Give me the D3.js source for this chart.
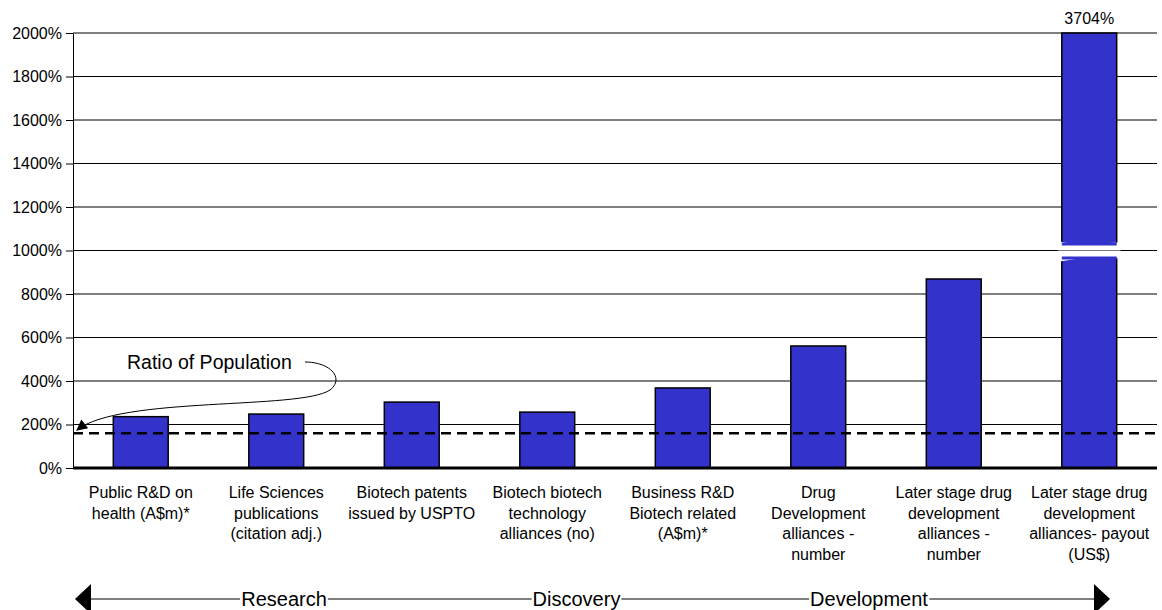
<!DOCTYPE html>
<html>
<head>
<meta charset="utf-8">
<script src="https://cdn.jsdelivr.net/npm/d3@7"></script>
<style>
  body { margin: 0; background: #fff; }
  text { font-family: "Liberation Sans", Arial, sans-serif; fill: #000; }
</style>
</head>
<body>
<div id="chart"></div>
<script>
// categories (multi-line labels)
var categories = [
  ["Public R&D on", "health (A$m)*"],
  ["Life Sciences", "publications", "(citation adj.)"],
  ["Biotech patents", "issued by USPTO"],
  ["Biotech biotech", "technology", "alliances (no)"],
  ["Business R&D", "Biotech related", "(A$m)*"],
  ["Drug", "Development", "alliances -", "number"],
  ["Later stage drug", "development", "alliances -", "number"],
  ["Later stage drug", "development", "alliances- payout", "(US$)"]
];
// values in percent
var values = [236, 248, 303, 257, 368, 561, 869, 3704];
var populationRatio = 160;
var yTicks = [0, 200, 400, 600, 800, 1000, 1200, 1400, 1600, 1800, 2000];
var stages = ["Research", "Discovery", "Development"];

var W = 1162, H = 610;
var margin = {top: 33, right: 5, bottom: 142, left: 73},
    width = W - margin.left - margin.right,
    height = H - margin.top - margin.bottom;

var svg = d3.select("#chart").append("svg")
    .attr("width", W).attr("height", H);
var g = svg.append("g")
    .attr("transform", "translate(" + margin.left + "," + margin.top + ")");

var x = d3.scaleBand().domain(d3.range(categories.length))
    .range([0, width]).paddingInner(0.595).paddingOuter(0.2975);
var y = d3.scaleLinear().domain([0, 2000]).range([height, 0]);

// gridlines
g.selectAll(".grid").data(yTicks.slice(1)).enter().append("line")
    .attr("x1", 0).attr("x2", width)
    .attr("y1", d => y(d)).attr("y2", d => y(d))
    .attr("stroke", "#000").attr("stroke-width", 1);

// y axis
var yAxis = g.append("g")
    .call(d3.axisLeft(y).tickValues(yTicks).tickFormat(d => d + "%").tickSize(7).tickSizeOuter(0));
yAxis.select(".domain").attr("stroke", "#000");
yAxis.selectAll("text").style("font-size", "16px").attr("x", -11);

// bars
var cap = 2000;
g.selectAll(".bar").data(values).enter().append("rect")
    .attr("x", (d, i) => x(i))
    .attr("width", x.bandwidth())
    .attr("y", d => y(Math.min(d, cap)))
    .attr("height", d => height - y(Math.min(d, cap)))
    .attr("fill", "#3333CC").attr("stroke", "#000").attr("stroke-width", 1.5);

// axis break on the big bar
var bi = values.length - 1, bx0 = x(bi) - 2, bx1 = x(bi) + x.bandwidth() + 2;
var yb = y(1000);
g.append("path")
    .attr("d", "M" + bx0 + "," + (yb - 9) +
      " C" + (bx0 + 20) + "," + (yb - 4) + " " + (bx1 - 25) + "," + (yb - 7) + " " + bx1 + "," + (yb - 8) +
      " L" + bx1 + "," + (yb + 8) +
      " C" + (bx1 - 20) + "," + (yb + 5) + " " + (bx0 + 25) + "," + (yb + 7) + " " + bx0 + "," + (yb + 11) + " Z")
    .attr("fill", "#fff");
g.append("line").attr("x1", bx0 - 2).attr("x2", bx1 + 2)
    .attr("y1", yb).attr("y2", yb).attr("stroke", "#777").attr("stroke-width", 1);
g.append("rect").attr("x", x(bi)).attr("width", x.bandwidth())
    .attr("y", yb - 8).attr("height", 3).attr("fill", "#3333CC");
g.append("rect").attr("x", x(bi)).attr("width", x.bandwidth())
    .attr("y", yb + 6).attr("height", 3).attr("fill", "#3333CC");

// value label for the off-scale bar
g.append("text")
    .attr("x", x(bi) + x.bandwidth() / 2).attr("y", -9)
    .attr("text-anchor", "middle").style("font-size", "16px")
    .text(values[bi] + "%");

// baseline
g.append("line").attr("x1", 0).attr("x2", width)
    .attr("y1", y(0)).attr("y2", y(0))
    .attr("stroke", "#000").attr("stroke-width", 3);

// population ratio dashed line
g.append("line").attr("x1", 0).attr("x2", width)
    .attr("y1", y(populationRatio)).attr("y2", y(populationRatio))
    .attr("stroke", "#000").attr("stroke-width", 2.5).attr("stroke-dasharray", "10,6");

// annotation
svg.append("defs").append("marker")
    .attr("id", "ah").attr("viewBox", "0 0 10 10").attr("refX", 9).attr("refY", 5)
    .attr("markerWidth", 14).attr("markerHeight", 11).attr("orient", "auto")
    .attr("markerUnits", "userSpaceOnUse")
  .append("path").attr("d", "M0,0 L10,5 L0,10 Z").attr("fill", "#000");
g.append("text")
    .attr("x", 127 - margin.left).attr("y", 369 - margin.top)
    .style("font-size", "19.5px").text("Ratio of Population");
g.append("path")
    .attr("d", "M" + (305 - margin.left) + "," + (362 - margin.top) +
      " C" + (330 - margin.left) + "," + (362 - margin.top) + " " + (345 - margin.left) + "," + (378 - margin.top) + " " + (330 - margin.left) + "," + (390 - margin.top) +
      " C" + (300 - margin.left) + "," + (410 - margin.top) + " " + (120 - margin.left) + "," + (396 - margin.top) + " " + (77 - margin.left) + "," + (430 - margin.top))
    .attr("fill", "none").attr("stroke", "#000").attr("stroke-width", 1)
    .attr("marker-end", "url(#ah)");

// category labels
var lab = g.selectAll(".cat").data(categories).enter().append("text")
    .attr("text-anchor", "middle").style("font-size", "16px")
    .attr("transform", (d, i) => "translate(" + (x(i) + x.bandwidth() / 2) + "," + (height + 30) + ")");
lab.selectAll("tspan").data(d => d).enter().append("tspan")
    .attr("x", 0).attr("dy", (d, i) => i === 0 ? 0 : 20.7).text(d => d);

// stage arrow
var ay = 599, ax0 = 75, ax1 = 1110, aw = 16, ah = 15;
var stageX = d3.scalePoint().domain(stages).range([284, 869]);
svg.append("line").attr("x1", ax0 + 12).attr("x2", ax1 - 12)
    .attr("y1", ay).attr("y2", ay).attr("stroke", "#000").attr("stroke-width", 1.2);
svg.append("path").attr("d", "M" + ax0 + "," + ay + " L" + (ax0 + aw) + "," + (ay - ah) + " L" + (ax0 + aw) + "," + (ay + ah) + " Z");
svg.append("path").attr("d", "M" + ax1 + "," + ay + " L" + (ax1 - aw) + "," + (ay - ah) + " L" + (ax1 - aw) + "," + (ay + ah) + " Z");
var st = svg.selectAll(".stage").data(stages).enter().append("g")
    .attr("transform", d => "translate(" + stageX(d) + "," + ay + ")");
st.append("text").attr("text-anchor", "middle").attr("dy", "0.35em")
    .style("font-size", "20px").text(d => d)
    .each(function() {
      var b = this.getBBox();
      d3.select(this.parentNode).insert("rect", "text")
        .attr("x", b.x - 1).attr("y", b.y + 3).attr("width", b.width + 2).attr("height", b.height - 6)
        .attr("fill", "#fff");
    });
</script>
</body>
</html>
